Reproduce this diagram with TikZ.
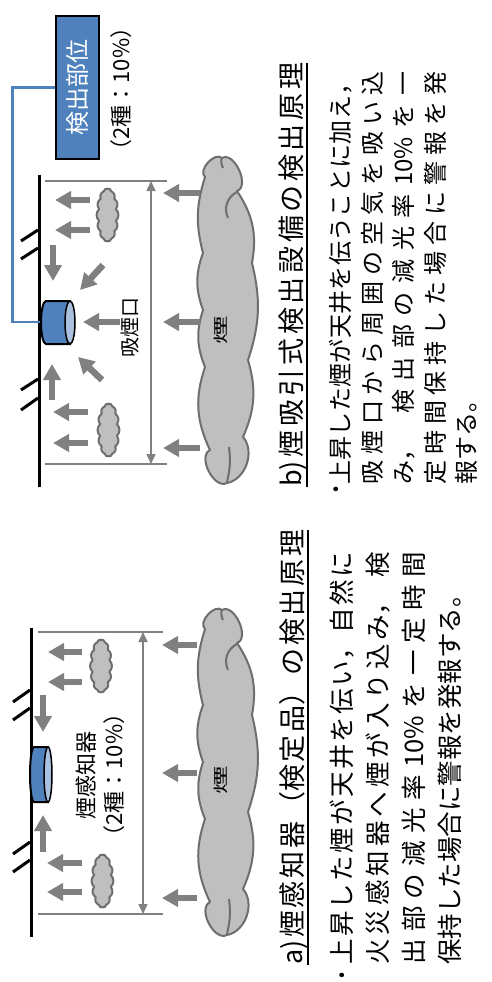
\documentclass[tikz,border=0pt]{standalone}
\usepackage{fontspec}
\usepackage{graphicx}
\setmainfont{Noto Sans CJK JP}
\usetikzlibrary{arrows.meta,shapes.symbols}
% justified Japanese lines: glue between characters
\XeTeXlinebreaklocale "ja"
\XeTeXlinebreakskip=0pt plus 1pt
\setlength{\parindent}{0pt}
\tolerance=10000
\hbadness=10000
\definecolor{smoke}{HTML}{BFBFBF}
\definecolor{smokeline}{HTML}{6E6E6E}
\definecolor{flowgray}{HTML}{808080}
\definecolor{unitblue}{HTML}{4F81BD}
\definecolor{lidblue}{HTML}{A9C0DF}
\tikzset{
  vtext/.style={rotate=90, inner sep=0pt},
  flow/.style={draw=flowgray, line width=6.5pt, -{Triangle[length=16pt,width=17pt]}},
  dimline/.style={draw=flowgray, line width=1.5pt},
  dimarrow/.style={dimline, {Triangle[length=10pt,width=9pt]}-{Triangle[length=10pt,width=9pt]}},
  ceiling/.style={draw=black, line width=3pt},
  cloudbody/.style={fill=smoke, draw=smokeline, line width=2pt, line join=round},
  puff/.style={cloud, cloud puffs=14, cloud puff arc=95, cloud ignores aspect,
    cloudbody, rotate=90, minimum width=53pt, minimum height=22pt, inner sep=0pt},
  tube/.style={fill=unitblue, draw=black, line width=2pt},
  lid/.style={fill=lidblue, draw=black, line width=1.5pt},
  pipe/.style={draw=unitblue, line width=2.5pt},
  unit/.style={vtext, draw=black, line width=1.5pt, fill=unitblue, text=white,
    minimum width=143pt, minimum height=43pt, font=\fontsize{24}{28}\selectfont},
  hdr/.style={vtext, anchor=base west, text width=#1, align=justify,
    font=\fontsize{27}{32}\selectfont, execute at begin node={\parfillskip=0pt\relax}},
  para/.style={vtext, anchor=north west, text width=413pt, align=justify},
  bullet/.style={vtext, font=\fontsize{18}{20}\selectfont},
  uline/.style={draw=black, line width=1.8pt}
}
% the large smoke cloud, top at y=145
\newcommand{\bigsmoke}{%
  \draw[cloudbody] (205,177) to[bend left=90] (222,158) to[bend left=95] (237,191)
    to[bend left=22] (252,263) to[bend left=16] (248,360) to[bend left=20] (243,437)
    to[bend left=60] (227,483) to[bend left=90] (210,450) to[bend left=22] (205,367)
    to[bend left=20] (203,310) to[bend left=20] (203,253) to[bend left=16] (205,177) -- cycle;
  \draw[cloudbody, fill=none] (228,218) to[bend left=45] (237,192);
  \draw[cloudbody, fill=none] (222,157) to[bend right=20] (223,168);
  \draw[cloudbody, fill=none] (229,447) to[bend left=10] (227,482);
}

\begin{document}
\begin{tikzpicture}[x=1pt, y=-1pt]
  \useasboundingbox (0,0) rectangle (492,982);

  %% b) aspirating detection system
  \draw[ceiling] (39.5,175) -- (39.5,487);
  \draw[ceiling] (38,230) -- (21,241);
  \draw[ceiling] (38,248) -- (21,259);
  \draw[ceiling] (38,379) -- (21,390);
  \draw[ceiling] (38,398) -- (21,410);

  \draw[dimline] (45,181) -- (167,181);
  \draw[dimline] (45,464) -- (167,464);
  \draw[dimarrow] (151,181) -- (151,464);

  \bigsmoke
  \node[vtext, font=\fontsize{15}{17}\selectfont] (smokeB) at (221,330) {\scalebox{1.9}[1]{煙}};
  \node[puff] (puffB1) at (107.5,215) {};
  \node[puff] (puffB2) at (108.5,430) {};

  \draw[flow] (200,193) -- (163,193);
  \draw[flow] (200,322) -- (163,322);
  \draw[flow] (200,448) -- (163,448);
  \draw[flow] (90,200) -- (55,200);
  \draw[flow] (90,230) -- (55,230);
  \draw[flow] (88,412) -- (53,412);
  \draw[flow] (88,443) -- (53,443);
  \draw[flow] (120,322) -- (83,322);
  \draw[flow] (103,265) -- (80,290);
  \draw[flow] (102,380) -- (78,357);
  \draw[flow] (53,245) -- (53,281);
  \draw[flow] (52,400) -- (52,364);

  \node[unit] (sensB) at (77.5,87.5) {検出部位};
  \node[vtext, font=\fontsize{22}{26}\selectfont] (rateB) at (121,89) {（2種：10\%）};
  \node[vtext, font=\fontsize{20}{24}\selectfont] (inletB) at (130,327) {吸煙口};

  % sampling pipe to the inlet
  \coordinate (portB) at (42,322);
  \draw[pipe] (sensB.north) -- ++(-43,0) |- (portB);
  \filldraw[tube] (70,301) -- (46,301) arc[start angle=270, end angle=90, x radius=5, y radius=21.5]
    -- (70,344) -- cycle;
  \filldraw[lid] (70,322.5) ellipse[x radius=5, y radius=21.5];

  \node[hdr=424pt] (titleB) at (301,487) {b)煙吸引式検出設備の検出原理};
  \draw[uline] ([xshift=6pt]titleB.base west) -- ([xshift=6pt]titleB.base east);
  \node[bullet] (dotB) at (338,489) {•};
  \node[para, font=\fontsize{24}{31.5}\selectfont] (textB) at (329,485)
    {上昇した煙が天井を伝うことに加え，\linebreak 吸煙口から周囲の空気を吸い込\linebreak み，\hspace{1em}検出部の減光率10\%を一\linebreak 定時間保持した場合に警報を発\linebreak 報する。};

  %% a) spot type smoke detector
  \draw[ceiling] (31.5,628) -- (31.5,937);
  \draw[ceiling] (30,690) -- (13,702);
  \draw[ceiling] (30,708) -- (13,720);
  \draw[ceiling] (30,842) -- (13,854);
  \draw[ceiling] (30,860) -- (13,872);

  \draw[dimline] (38,632) -- (163,632);
  \draw[dimline] (38,914) -- (163,914);
  \draw[dimarrow] (143,632) -- (143,914);

  \begin{scope}[shift={(0,452)}]
    \bigsmoke
  \end{scope}
  \node[vtext, font=\fontsize{15}{17}\selectfont] (smokeA) at (221,780) {\scalebox{1.9}[1]{煙}};
  \node[puff] (puffA1) at (101,666) {};
  \node[puff] (puffA2) at (102.5,881) {};

  \draw[flow] (197,645) -- (162,645);
  \draw[flow] (197,773) -- (162,773);
  \draw[flow] (197,898) -- (162,898);
  \draw[flow] (82,652) -- (48,652);
  \draw[flow] (82,682) -- (48,682);
  \draw[flow] (82,863) -- (47,863);
  \draw[flow] (82,892) -- (47,892);
  \draw[flow] (43,695) -- (43,732);
  \draw[flow] (43,852) -- (43,815);

  \filldraw[tube] (48,747) -- (34,747) arc[start angle=270, end angle=90, x radius=4, y radius=27.5]
    -- (48,802) -- cycle;
  \filldraw[lid] (48,774.5) ellipse[x radius=4, y radius=27.5];
  \node[vtext, align=center, font=\fontsize{22}{28}\selectfont] (labelA) at (100,775)
    {煙感知器\\（2種：10\%）};

  \node[hdr=435pt] (titleA) at (302,965) {a)煙感知器（検定品）の検出原理};
  \draw[uline] ([xshift=6pt]titleA.base west) -- ([xshift=6pt]titleA.base east);
  \node[bullet] (dotA) at (344,975) {•};
  \node[para, font=\fontsize{25.5}{36}\selectfont] (textA) at (330,965)
    {上昇した煙が天井を伝い，自然に\linebreak 火災感知器へ煙が入り込み，\hspace{0.5em}検\linebreak 出部の減光率10\%を一定時間\linebreak 保持した場合に警報を発報する。};
\end{tikzpicture}
\end{document}
